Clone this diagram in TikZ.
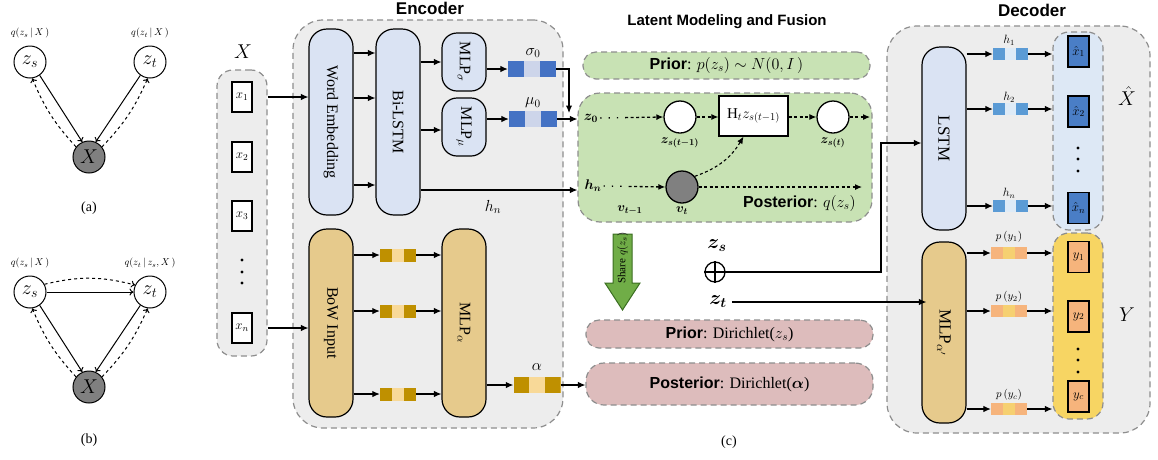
\RequirePackage{fix-cm}
\documentclass[tikz,border=0pt]{standalone}
\usepackage{fontspec}
\usepackage{bm}
\setmainfont{Liberation Serif}
\newfontfamily\hsans{Liberation Sans}
\usetikzlibrary{arrows.meta,calc}
\newcommand\fsz[1]{\fontsize{#1}{#1}\selectfont}
\definecolor{grpgray}{HTML}{EDEDED}
\definecolor{dashgray}{HTML}{8E8E8E}
\definecolor{lblue}{HTML}{DAE3F3}
\definecolor{tanc}{HTML}{E6CA8C}
\definecolor{bdark}{HTML}{4472C4}
\definecolor{blight}{HTML}{CDD5EA}
\definecolor{gdark}{HTML}{BF9000}
\definecolor{glight}{HTML}{F8D998}
\definecolor{lgreen}{HTML}{C8E2B4}
\definecolor{lpink}{HTML}{DDBCBC}
\definecolor{agreen}{HTML}{70AD47}
\definecolor{agreenD}{HTML}{3B6E22}
\definecolor{hdark}{HTML}{5B9BD5}
\definecolor{hlight}{HTML}{DEEBF7}
\definecolor{xcolfill}{HTML}{DDE8F5}
\definecolor{xhatfill}{HTML}{4A7EC6}
\definecolor{porange}{HTML}{F6B47C}
\definecolor{pyellow}{HTML}{F6D071}
\definecolor{ycolfill}{HTML}{F7D563}
\definecolor{nodegray}{HTML}{808080}
\begin{document}
\begin{tikzpicture}[x=1pt,y=-1pt,
  arr/.style={-{Latex[length=7.5pt,width=6.5pt]},line width=1.1pt},
  thinarr/.style={-{To[length=4pt,width=7pt]},line width=1pt},
  dsh/.style={-{Latex[length=7pt,width=6pt]},line width=1.1pt,dash pattern=on 3pt off 2.5pt},
  dotdsh/.style={-{Latex[length=7pt,width=6pt]},line width=1.3pt,dash pattern=on 1.3pt off 7pt on 1.3pt off 7pt on 1.3pt off 7pt on 3pt off 2.5pt on 3pt off 2.5pt on 3pt off 2.5pt on 3pt off 2.5pt on 3pt off 2.5pt on 3pt off 2.5pt on 3pt off 2.5pt on 3pt off 2.5pt on 3pt off 2.5pt},
  grp/.style={draw=dashgray,line width=1.2pt,dash pattern=on 6pt off 4pt,fill=grpgray,inner sep=0pt},
  blk/.style={draw,line width=1.2pt,inner sep=0pt,rounded corners=18pt},
  vbar/.style 2 args={fill=#2,inner sep=0pt,path picture={
     \fill[#1] (path picture bounding box.north west) rectangle ($(path picture bounding box.south west)!0.333!(path picture bounding box.south east)$);
     \fill[#1] (path picture bounding box.north east) rectangle ($(path picture bounding box.south west)!0.667!(path picture bounding box.south east)$);}},
  sqbox/.style={draw,line width=1.2pt,fill=white,inner sep=0pt,minimum width=20pt,minimum height=30pt},
  pgm/.style={circle,draw,line width=1pt,minimum size=32pt,inner sep=0pt,fill=white},
  lbl/.style={inner sep=0pt},
]
\useasboundingbox (0,0) rectangle (1158,459);

% ---------- panel (a)
\node[pgm] (azs) at (30,62) {\fsz{20}$z_s$};
\node[pgm] (azt) at (150,62) {\fsz{20}$z_t$};
\node[pgm,fill=nodegray] (ax) at (89,157) {\fsz{20}$X$};
\node[lbl] (aqs) at (30,33) {\fsz{10}$q(z_s\,|\,X\,)$};
\node[lbl] (aqt) at (150,33) {\fsz{10}$q(z_t\,|\,X\,)$};
\draw[thinarr] (azs.-54) -- (ax.114);
\draw[thinarr] (azt.-126) -- (ax.66);
\draw[thinarr,dashed] (ax.142) to[bend left=10] (azs.-82);
\draw[thinarr,dashed] (ax.38) to[bend right=10] (azt.-98);
\node[lbl] (alab) at (89,208) {\fsz{14}(a)};

% ---------- panel (b)
\node[pgm] (bzs) at (30,292) {\fsz{20}$z_s$};
\node[pgm] (bzt) at (150,292) {\fsz{20}$z_t$};
\node[pgm,fill=nodegray] (bx) at (89,387) {\fsz{20}$X$};
\node[lbl] (bqs) at (30,263) {\fsz{10}$q(z_s\,|\,X\,)$};
\node[lbl] (bqt) at (150,263) {\fsz{10}$q(z_t\,|\,z_s,X\,)$};
\draw[thinarr] (bzs.east) -- (bzt.west);
\draw[thinarr,dashed] (bzs.28) to[bend left=14] (bzt.155);
\draw[thinarr] (bzs.-54) -- (bx.114);
\draw[thinarr] (bzt.-126) -- (bx.66);
\draw[thinarr,dashed] (bx.142) to[bend left=10] (bzs.-82);
\draw[thinarr,dashed] (bx.38) to[bend right=10] (bzt.-98);
\node[lbl] (blab) at (89,440) {\fsz{14}(b)};

% ---------- groups
\node[grp,rounded corners=30pt,minimum width=270pt,minimum height=408pt] (enc) at (428,224) {};
\node[grp,rounded corners=30pt,minimum width=263pt,minimum height=407pt] (dec) at (1018.5,229.5) {};
\node[grp,rounded corners=16pt,minimum width=50pt,minimum height=286pt] (xcol) at (242,213) {};

\node[lbl,anchor=base] (enct) at (430,14) {\hsans\bfseries\fsz{17}Encoder};
\node[lbl,anchor=base] (dect) at (1032,16) {\hsans\bfseries\fsz{17}Decoder};
\node[lbl,anchor=base] (latt) at (727,25) {\hsans\bfseries\fsz{15}Latent Modeling and Fusion};

% ---------- input X
\node[lbl] (xlab) at (243,52) {\fsz{20}$X$};
\node[sqbox] (x1) at (242,97) {\fsz{13}$x_1$};
\node[sqbox] (x2) at (242,157) {\fsz{13}$x_2$};
\node[sqbox] (x3) at (242,216) {\fsz{13}$x_3$};
\node[sqbox] (xn) at (242,328) {\fsz{13}$x_n$};
\fill (242,260) circle (1.6pt) (242,272) circle (1.6pt) (242,283) circle (1.6pt);

% ---------- encoder
\node[blk,fill=lblue,minimum width=44pt,minimum height=186pt] (we) at (331,122) {\rotatebox{-90}{\fsz{16}Word Embedding}};
\node[blk,fill=lblue,minimum width=44pt,minimum height=186pt] (bil) at (398,122) {\rotatebox{-90}{\fsz{16}Bi-LSTM}};
\node[blk,fill=lblue,rounded corners=15pt,minimum width=44pt,minimum height=58pt] (mlps) at (464,62) {\rotatebox{-90}{\fsz{16}MLP$_\sigma$}};
\node[blk,fill=lblue,rounded corners=15pt,minimum width=44pt,minimum height=58pt] (mlpm) at (464,127) {\rotatebox{-90}{\fsz{16}MLP$_\mu$}};
\node[blk,fill=tanc,minimum width=44pt,minimum height=188pt] (bow) at (331,323) {\rotatebox{-90}{\fsz{16}BoW Input}};
\node[blk,fill=tanc,minimum width=44pt,minimum height=188pt] (mlpa) at (464,323) {\rotatebox{-90}{\fsz{16}MLP$_\alpha$}};

\node[vbar={bdark}{blight},minimum width=48pt,minimum height=16pt] (sig) at (532,69) {};
\node[lbl] (sigl) at (533,53) {\fsz{16}$\sigma_0$};
\node[vbar={bdark}{blight},minimum width=48pt,minimum height=16pt] (mu) at (533,119) {};
\node[lbl] (mul) at (533,103) {\fsz{16}$\mu_0$};

\node[vbar={gdark}{glight},minimum width=36pt,minimum height=13pt] (g1) at (398,255) {};
\node[vbar={gdark}{glight},minimum width=36pt,minimum height=13pt] (g2) at (398,311) {};
\node[vbar={gdark}{glight},minimum width=36pt,minimum height=13pt] (g3) at (398,394) {};
\node[vbar={gdark}{glight},minimum width=47pt,minimum height=16pt] (al) at (537,385) {};
\node[lbl] (all) at (537,367) {\fsz{16}$\alpha$};
\node[lbl] (hnl) at (493,207) {\fsz{16}$h_n$};

% ---------- latent
\node[grp,fill=lgreen,rounded corners=13pt,minimum width=287pt,minimum height=27pt] (prior) at (726.5,65.5) {\fsz{16}{\hsans\bfseries Prior}: $p(z_s)\sim N(0,I\,)$};
\node[grp,fill=lgreen,rounded corners=22pt,minimum width=294pt,minimum height=129pt] (post) at (725,157.5) {};

\node[lbl] (z0) at (591,118) {\fsz{14}$\bm{z_0}$};
\node[pgm,line width=1.3pt] (zsp) at (680,117) {};
\node[lbl] (zspl) at (680,143) {\fsz{13}$\bm{z_{s(t-1)}}$};
\node[draw,line width=1.2pt,fill=white,minimum width=69pt,minimum height=40pt,inner sep=0pt] (hbox) at (753.5,116) {\fsz{15}$\mathrm{H}_t z_{s(t-1)}$};
\node[pgm,line width=1.3pt] (zst) at (833,117) {};
\node[lbl] (zstl) at (833,143) {\fsz{13}$\bm{z_{s(t)}}$};
\coordinate (zout) at (870,117);
\node[lbl] (hn2) at (593,186) {\fsz{14}$\bm{h_n}$};
\node[pgm,line width=1.3pt,fill=nodegray] (vt) at (682,187) {};
\node[lbl] (vtl) at (682,211) {\fsz{13}$\bm{v_t}$};
\node[lbl] (vt1) at (630,210) {\fsz{13}$\bm{v_{t-1}}$};
\coordinate (vout) at (862,187);
\node[lbl,anchor=east] (postl) at (856,203) {\fsz{16}{\hsans\bfseries Posterior}: $q(z_s)$};

\draw[dotdsh] ([xshift=2pt]z0.east) -- (zsp.west);
\draw[dsh] (zsp.east) -- (zsp.east -| hbox.west);
\draw[dsh] (hbox.east |- zst.west) -- (zst.west);
\draw[dsh] (zst.east) -- (zout);
\draw[dotdsh] ([xshift=2pt]hn2.east) -- (vt.west);
\draw[dsh] (vt.east) -- (vout);
\draw[dsh] (vt.40) to[bend right=20] ([xshift=-10pt]hbox.south);

\draw[fill=agreen,draw=agreenD,line width=1pt] (613,234) -- (632,234) -- (632,283) -- (640,283) -- (622.5,310) -- (605,283) -- (613,283) -- cycle;
\node[lbl,rotate=90] (share) at (622.5,258) {\fsz{11}Share $q(z_s)$};

\node[lbl] (zsb) at (717,246) {\fsz{20}$\bm{z_s}$};
\node[circle,draw,line width=1.3pt,minimum size=20pt,inner sep=0pt] (op) at (715,272) {};
\draw[line width=1.3pt] (op.north) -- (op.south) (op.west) -- (op.east);
\node[lbl] (ztb) at (718,302) {\fsz{20}$\bm{z_t}$};

\node[grp,fill=lpink,rounded corners=13pt,minimum width=287pt,minimum height=28pt] (priord) at (729.5,334) {\fsz{16}{\hsans\bfseries Prior}: Dirichlet($z_s$)};
\node[grp,fill=lpink,rounded corners=18pt,minimum width=287pt,minimum height=42pt] (postd) at (729.5,384) {\fsz{16}{\hsans\bfseries Posterior}: Dirichlet($\bm{\alpha}$)};
\node[lbl] (clab) at (729,442) {\fsz{14}(c)};

% ---------- decoder
\node[blk,fill=lblue,minimum width=44pt,minimum height=183pt] (lstm) at (944,138.5) {\rotatebox{-90}{\fsz{17}LSTM}};
\node[blk,fill=tanc,minimum width=44pt,minimum height=181pt] (mlpad) at (944,332.5) {\rotatebox{-90}{\fsz{17}MLP$_{\alpha'}$}};
\node[grp,fill=xcolfill,rounded corners=16pt,minimum width=50pt,minimum height=198pt] (xhcol) at (1078,131) {};
\node[grp,fill=ycolfill,rounded corners=16pt,minimum width=50pt,minimum height=186pt] (ycol) at (1078,326) {};

\node[vbar={hdark}{hlight},minimum width=35pt,minimum height=12pt] (h1) at (1010.5,54) {};
\node[vbar={hdark}{hlight},minimum width=35pt,minimum height=12pt] (h2) at (1010.5,109) {};
\node[vbar={hdark}{hlight},minimum width=35pt,minimum height=12pt] (hN) at (1010.5,206) {};
\node[lbl] (h1l) at (1009,40) {\fsz{12}$h_1$};
\node[lbl] (h2l) at (1009,97) {\fsz{12}$h_2$};
\node[lbl] (hNl) at (1009,193) {\fsz{12}$h_n$};

\node[sqbox,fill=xhatfill,minimum width=21pt,minimum height=31pt] (xh1) at (1078.5,51.5) {\fsz{13}$\hat{x}_1$};
\node[sqbox,fill=xhatfill,minimum width=21pt,minimum height=31pt] (xh2) at (1078.5,111.5) {\fsz{13}$\hat{x}_2$};
\node[sqbox,fill=xhatfill,minimum width=21pt,minimum height=31pt] (xhn) at (1078.5,208) {\fsz{13}$\hat{x}_n$};
\fill (1078,148) circle (1.6pt) (1078,159) circle (1.6pt) (1078,171) circle (1.6pt);
\node[lbl] (xhatl) at (1127,96) {\fsz{20}$\hat{X}$};

\node[vbar={porange}{pyellow},minimum width=36pt,minimum height=12pt] (p1) at (1009,253) {};
\node[vbar={porange}{pyellow},minimum width=36pt,minimum height=12pt] (p2) at (1009,311) {};
\node[vbar={porange}{pyellow},minimum width=36pt,minimum height=12pt] (pc) at (1009,409) {};
\node[lbl] (p1l) at (1009,237) {\fsz{11}$p\,(y_1)$};
\node[lbl] (p2l) at (1009,297) {\fsz{11}$p\,(y_2)$};
\node[lbl] (pcl) at (1009,395) {\fsz{11}$p\,(y_c)$};

\node[sqbox,fill=porange,minimum width=21pt,minimum height=31pt] (y1) at (1078.5,257) {\fsz{13}$y_1$};
\node[sqbox,fill=porange,minimum width=21pt,minimum height=31pt] (y2) at (1078.5,316.5) {\fsz{13}$y_2$};
\node[sqbox,fill=porange,minimum width=21pt,minimum height=31pt] (yc) at (1078.5,396.5) {\fsz{13}$y_c$};
\fill (1078,349) circle (1.6pt) (1078,360) circle (1.6pt) (1078,372) circle (1.6pt);
\node[lbl] (ylab) at (1127,315) {\fsz{20}$Y$};

% ---------- encoder arrows
\draw[arr] (x1.east -| xcol.east) -- (x1.east -| we.west);
\draw[arr] (xn.east -| xcol.east) -- (xn.east -| bow.west);
\foreach \yy in {53,98,185} \draw[arr] (we.east |- 0,\yy) -- (bil.west |- 0,\yy);
\draw[arr] (bil.east |- mlps.west) -- (mlps.west);
\draw[arr] (bil.east |- 0,130) -- (mlpm.west |- 0,130);
\draw[arr] (mlps.east |- sig.west) -- (sig.west);
\draw[arr] (mlpm.east |- mu.west) -- (mu.west);
\coordinate (sigdrop) at (569,113);
\draw[arr] (sig.east) -| (sigdrop);
\draw[arr] (mu.east) -- (mu.east -| post.west);
\draw[arr] (bil.east |- 0,190) -- (post.west |- 0,190);
\foreach \gg in {g1,g2,g3} {
  \draw[arr] (bow.east |- \gg.west) -- (\gg.west);
  \draw[arr] (\gg.east) -- (\gg.east -| mlpa.west);
}
\draw[arr] (mlpa.east |- al.west) -- (al.west);
\draw[arr] (al.east) -- (al.east -| postd.west);

% ---------- fusion arrows
\coordinate (bendpt) at (881,143);
\draw[arr] (op.east) -| (bendpt) -- (bendpt -| lstm.west);
\draw[arr] ([xshift=5pt]ztb.east) -- ([xshift=5pt]ztb.east -| mlpad.west);

% ---------- decoder arrows
\foreach \bb in {h1,h2,hN} {
  \draw[arr] (lstm.east |- \bb.west) -- (\bb.west);
  \draw[arr] (\bb.east) -- (\bb.east -| xhcol.west);
}
\foreach \bb in {p1,p2,pc} {
  \draw[arr] (mlpad.east |- \bb.west) -- (\bb.west);
  \draw[arr] (\bb.east) -- (\bb.east -| ycol.west);
}
\end{tikzpicture}
\end{document}
